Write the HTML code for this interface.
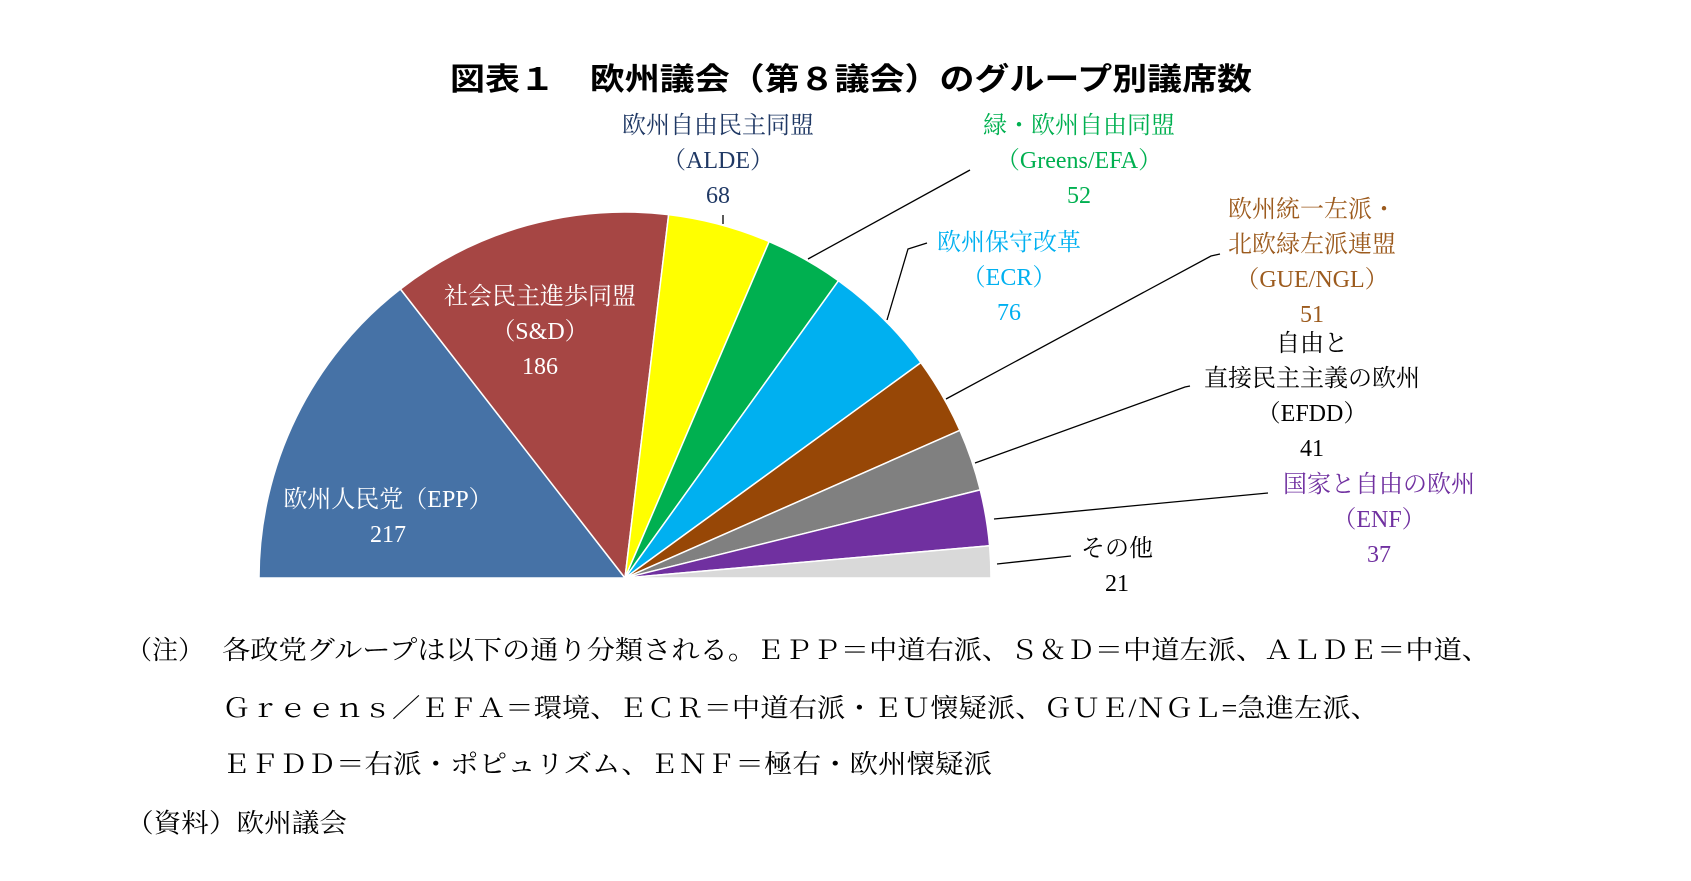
<!DOCTYPE html>
<html><head><meta charset="utf-8"><style>
html,body{margin:0;padding:0;background:#fff;}
svg{display:block;}
.m{font-family:"Liberation Serif","Noto Serif CJK SC",serif;font-size:24px;}
.n{font-family:"Liberation Serif","Noto Serif CJK SC",serif;font-size:26px;fill:#000;}
</style></head><body>
<svg id="chart" width="1691" height="881" viewBox="0 0 1691 881">
<text x="450" y="90" textLength="802" lengthAdjust="spacingAndGlyphs" font-family="'Liberation Sans','Noto Sans CJK JP',sans-serif" font-weight="bold" font-size="31">図表１　欧州議会（第８議会）のグループ別議席数</text>
<g id="slices"></g>
<g id="leaders" stroke="#000" stroke-width="1.3" fill="none">
<polyline points="723,215 723,224"/>
<polyline points="808,259 970,170"/>
<polyline points="887,320 908,249 927,243"/>
<polyline points="946,399 1211,256 1220,254"/>
<polyline points="975,463 1185,387 1190,386"/>
<polyline points="994,519 1268,493"/>
<polyline points="997,564 1071,556"/>
</g>
<g id="labels" class="m" text-anchor="middle"></g>
<g>
<text class="n" x="126" y="659">（注）</text>
<text class="n" x="222" y="659" textLength="1268" lengthAdjust="spacingAndGlyphs">各政党グループは以下の通り分類される。ＥＰＰ＝中道右派、Ｓ＆Ｄ＝中道左派、ＡＬＤＥ＝中道、</text>
<text class="n" x="222" y="717" textLength="1157" lengthAdjust="spacingAndGlyphs">Ｇｒｅｅｎｓ／ＥＦＡ＝環境、ＥＣＲ＝中道右派・ＥＵ懐疑派、ＧＵＥ/ＮＧＬ=急進左派、</text>
<text class="n" x="222" y="773" textLength="770" lengthAdjust="spacingAndGlyphs">ＥＦＤＤ＝右派・ポピュリズム、ＥＮＦ＝極右・欧州懐疑派</text>
<text class="n" x="126" y="832" textLength="221" lengthAdjust="spacingAndGlyphs">（資料）欧州議会</text>
</g>
</svg>
<script>
const groups = ["EPP","S&D","ALDE","Greens/EFA","ECR","GUE/NGL","EFDD","ENF","Other"];
const seats = [217,186,68,52,76,51,41,37,21];
const colors = ["#4672a6","#a64644","#ffff00","#00b050","#00b0f0","#974706","#808080","#7030a0","#d9d9d9"];
const labelLines = [
 ["欧州人民党（EPP）","217"],
 ["社会民主進歩同盟","（S&D）","186"],
 ["欧州自由民主同盟","（ALDE）","68"],
 ["緑・欧州自由同盟","（Greens/EFA）","52"],
 ["欧州保守改革","（ECR）","76"],
 ["欧州統一左派・","北欧緑左派連盟","（GUE/NGL）","51"],
 ["自由と","直接民主主義の欧州","（EFDD）","41"],
 ["国家と自由の欧州","（ENF）","37"],
 ["その他","21"]
];
const labelColors = ["#fff","#fff","#1f3864","#00b050","#00b0f0","#9c5b1e","#000","#7030a0","#000"];
const cx=625, cy=578, R=366;
const anchors=[[388,507],[540,304],[718,133],[1079,133],[1009,250],[1312,217],[1312,351],[1379,492],[1117,556]];
const total = seats.reduce((a,b)=>a+b,0);
function ang(v){return Math.PI - v/total*Math.PI;}
const ns="http://www.w3.org/2000/svg";
const gS=document.getElementById('slices');
let acc=0;
seats.forEach((v,i)=>{
  const a0=ang(acc), a1=ang(acc+v); acc+=v;
  const x0=cx+R*Math.cos(a0), y0=cy-R*Math.sin(a0);
  const x1=cx+R*Math.cos(a1), y1=cy-R*Math.sin(a1);
  const p=document.createElementNS(ns,'path');
  p.setAttribute('d',`M${cx},${cy} L${x0},${y0} A${R},${R} 0 0 1 ${x1},${y1} Z`);
  p.setAttribute('fill',colors[i]);
  p.setAttribute('stroke','#fff');
  p.setAttribute('stroke-width','1.5');
  
  
  gS.appendChild(p);
});
const gL=document.getElementById('labels');
labelLines.forEach((lines,i)=>{
  const t=document.createElementNS(ns,'text');
  t.setAttribute('fill',labelColors[i]);
  
  
  lines.forEach((s,k)=>{
    const ts=document.createElementNS(ns,'tspan');
    ts.setAttribute('x',anchors[i][0]);
    ts.setAttribute('y',anchors[i][1]+k*35);
    ts.textContent = (k===lines.length-1) ? String(seats[i]) : s;
    t.appendChild(ts);
  });
  gL.appendChild(t);
});
</script>
</body></html>
